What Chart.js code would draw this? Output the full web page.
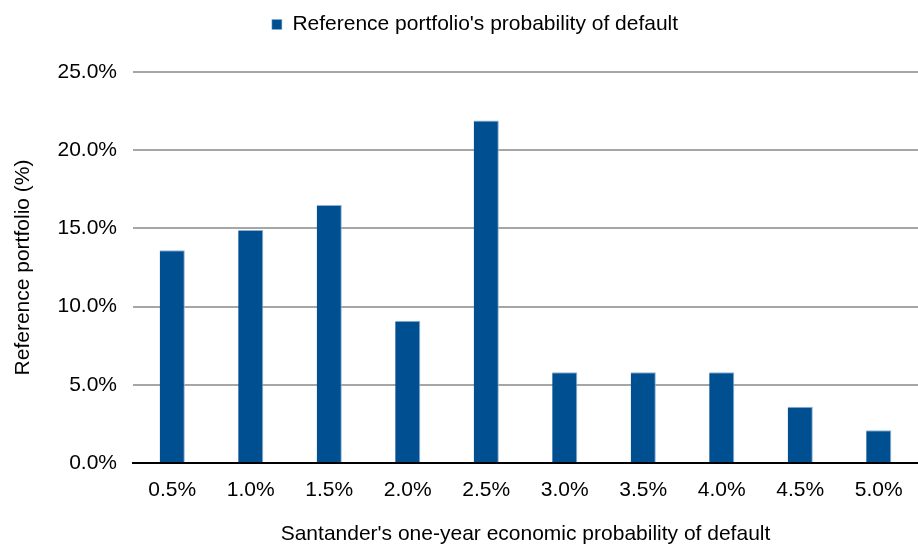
<!DOCTYPE html>
<html>
<head>
<meta charset="utf-8">
<script src="https://cdn.jsdelivr.net/npm/chart.js@4"></script>
<style>
  html, body { margin: 0; padding: 0; background: #fff; }
  #wrap { width: 918px; height: 547px; position: relative; }
</style>
</head>
<body>
<div id="wrap"><canvas id="chart"></canvas></div>
<script>
// categories: Santander's one-year economic PD buckets
const pdBuckets = ["0.5%", "1.0%", "1.5%", "2.0%", "2.5%", "3.0%", "3.5%", "4.0%", "4.5%", "5.0%"];
// share of reference portfolio in each bucket (%)
const portfolioShare = [13.6, 14.9, 16.5, 9.1, 21.9, 5.8, 5.8, 5.8, 3.6, 2.1];
const yTicks = [0, 5, 10, 15, 20, 25];

const FONT = "'Liberation Sans', Arial, sans-serif";
const BAR_BLUE = "#004f91";

Chart.defaults.font.family = FONT;
Chart.defaults.color = "#000";

// legend needs more room below it, and sits a bit right of centre
const legendNudge = {
  id: "legendNudge",
  beforeInit(chart) {
    const fit = chart.legend.fit;
    chart.legend.fit = function () {
      fit.call(this);
      this.height += 27;
    };
  },
  afterLayout(chart) {
    chart.legend.left += 16;
    chart.legend.right += 16;
  },
};

new Chart(document.getElementById("chart"), {
  type: "bar",
  data: {
    labels: pdBuckets,
    datasets: [
      {
        label: "Reference portfolio's probability of default",
        data: portfolioShare,
        backgroundColor: BAR_BLUE,
        borderColor: "#8fb0d6",
        borderWidth: { left: 0, right: 1, top: 1, bottom: 0 },
        barPercentage: 0.32,
        categoryPercentage: 1,
      },
    ],
  },
  options: {
    responsive: true,
    maintainAspectRatio: false,
    animation: false,
    layout: { padding: { top: 8, right: 0, left: 0, bottom: 0 } },
    plugins: {
      legend: {
        position: "top",
        labels: {
          boxWidth: 10,
          boxHeight: 10,
          padding: 6,
          font: { size: 21 },
          color: "#000",
        },
      },
      tooltip: { enabled: false },
    },
    scales: {
      x: {
        grid: { display: false, drawTicks: false },
        border: { display: true, color: "#000", width: 2 },
        ticks: { padding: 15, font: { size: 21 }, color: "#000" },
        title: {
          display: true,
          text: "Santander's one-year economic probability of default",
          font: { size: 21 },
          color: "#000",
          padding: { top: 11, bottom: 0 },
        },
        afterFit: (s) => { s.height = 84; },
      },
      y: {
        min: 0,
        max: 25,
        afterBuildTicks: (s) => { s.ticks = yTicks.map((v) => ({ value: v })); },
        grid: {
          drawTicks: false,
          color: (ctx) => (ctx.tick && ctx.tick.value === 0 ? "#000" : "#a6a6a6"),
          lineWidth: 2,
        },
        border: { display: false },
        ticks: {
          padding: 16,
          font: { size: 21 },
          color: "#000",
          callback: (v) => v.toFixed(1) + "%",
        },
        title: {
          display: true,
          text: "Reference portfolio (%)",
          font: { size: 21 },
          color: "#000",
          padding: { top: 11, bottom: 10 },
        },
        afterFit: (s) => { s.width = 133; },
      },
    },
  },
  plugins: [legendNudge],
});
</script>
</body>
</html>
